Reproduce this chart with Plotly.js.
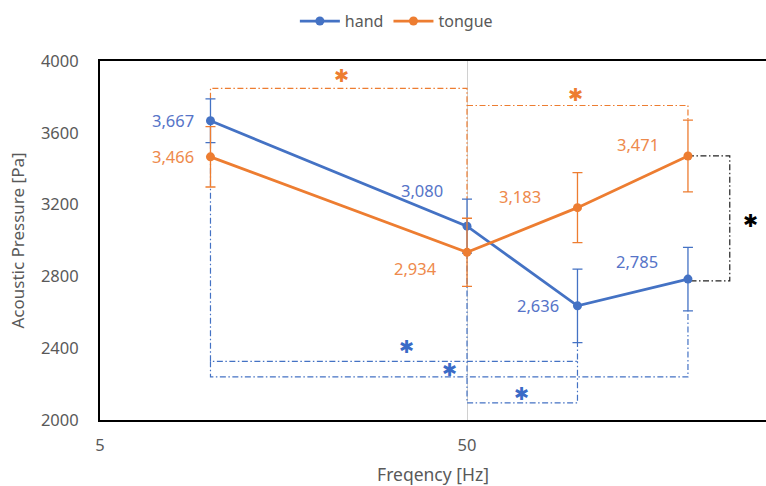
<!DOCTYPE html>
<html>
<head>
<meta charset="utf-8">
<script src="https://cdn.plot.ly/plotly-3.0.1.min.js"></script>
<style>html,body{margin:0;padding:0;background:#fff;}#chart{width:766px;height:486px;}</style>
</head>
<body>
<div id="chart"></div>
<script>
// ---- data ----
const freq = [10, 50, 100, 200];
const handVals = [3667, 3080, 2636, 2785];
const handErr = [122, 150, 205, 177];
const tongueVals = [3466, 2934, 3183, 3471];
const tongueErr = [168, 190, 195, 200];
const xTickVals = [5, 50, 500];
const xTickText = ['5', '50', '500'];
const yTickVals = [2000, 2400, 2800, 3200, 3600, 4000];

// significance bracket levels (Pa)
const orangeLevels = [3848, 3752];
const blueLevels = [2327, 2240, 2095];
const blackBracketX = 260;
// star positions (data space)
const starFreq = [22.8, 99, 297, 34.3, 44.7, 70.2];
const starPa = [3922, 3811, 3114, 2412, 2284, 2145];
const starColor = ['#ED7D31', '#ED7D31', '#000000', '#3A6BC7', '#3A6BC7', '#3A6BC7'];

// label offsets (pixels)
const handLabelOff = [[-14, 0, 'right'], [-45, 36, 'center'], [-39, 0, 'center'], [-51, 18, 'center']];
const tongueLabelOff = [[-14, 0, 'right'], [-52, -16, 'center'], [-57, 11, 'center'], [-50, 11, 'center']];

const BLUE = '#4472C4', ORANGE = '#ED7D31';
const FONT = '"Noto Sans", sans-serif';
const DASH = '6px,2.5px,1.5px,2.5px';

function bracket(xs, ys, color) {
  return {x: xs, y: ys, mode: 'lines', type: 'scatter', showlegend: false, hoverinfo: 'skip',
          line: {color: color, width: 1.2, dash: DASH}};
}

const traces = [
  bracket([freq[0], freq[0], freq[1], freq[1]],
          [handVals[0] + handErr[0], orangeLevels[0], orangeLevels[0], handVals[1] + handErr[1]], ORANGE),
  bracket([freq[1], freq[3], freq[3]],
          [orangeLevels[1], orangeLevels[1], tongueVals[3] + tongueErr[3]], ORANGE),
  bracket([freq[3], blackBracketX, blackBracketX, freq[3]],
          [tongueVals[3], tongueVals[3], handVals[3] - 10, handVals[3] - 10], '#222222'),
  bracket([freq[0], freq[0], freq[2], freq[2]],
          [handVals[0] - handErr[0], blueLevels[0], blueLevels[0], handVals[2] - handErr[2]], BLUE),
  bracket([freq[0], freq[0], freq[3], freq[3]],
          [blueLevels[0], blueLevels[1], blueLevels[1], handVals[3] - handErr[3]], BLUE),
  bracket([freq[1], freq[1], freq[2], freq[2]],
          [handVals[1] - handErr[1], blueLevels[2], blueLevels[2], blueLevels[0]], BLUE),
  {x: freq, y: handVals, name: 'hand', type: 'scatter', mode: 'lines+markers',
   line: {color: BLUE, width: 2.8}, marker: {color: BLUE, size: 9},
   error_y: {type: 'data', array: handErr, visible: true, color: BLUE, thickness: 1.3, width: 5}},
  {x: freq, y: tongueVals, name: 'tongue', type: 'scatter', mode: 'lines+markers',
   line: {color: ORANGE, width: 2.8}, marker: {color: ORANGE, size: 9},
   error_y: {type: 'data', array: tongueErr, visible: true, color: ORANGE, thickness: 1.3, width: 5}}
];

const annotations = [];
function fmt(v) { return v.toLocaleString('en-US'); }
freq.forEach((f, i) => {
  annotations.push({x: Math.log10(f), y: handVals[i], xref: 'x', yref: 'y', text: fmt(handVals[i]),
    showarrow: false, xanchor: handLabelOff[i][2], xshift: handLabelOff[i][0], yshift: handLabelOff[i][1],
    font: {family: FONT, size: 16.5, color: '#5674C8'}});
  annotations.push({x: Math.log10(f), y: tongueVals[i], xref: 'x', yref: 'y', text: fmt(tongueVals[i]),
    showarrow: false, xanchor: tongueLabelOff[i][2], xshift: tongueLabelOff[i][0], yshift: tongueLabelOff[i][1],
    font: {family: FONT, size: 16.5, color: '#EE8A4C'}});
});
starFreq.forEach((f, i) => {
  annotations.push({x: Math.log10(f), y: starPa[i], xref: 'x', yref: 'y', text: '✱',
    showarrow: false, yshift: 0, font: {family: 'DejaVu Sans', size: 18, color: starColor[i]}});
});

const layout = {
  width: 766, height: 486,
  margin: {l: 100, r: 0, t: 61, b: 66},
  paper_bgcolor: '#ffffff', plot_bgcolor: '#ffffff',
  font: {family: FONT, color: '#595959', size: 16},
  showlegend: true,
  legend: {orientation: 'h', x: 0.445, xanchor: 'center', y: 1.111, yanchor: 'middle',
           font: {family: FONT, size: 16, color: '#595959'}, itemwidth: 40},
  xaxis: {type: 'log', range: [Math.log10(5), Math.log10(5) + 666 / 367],
          tickvals: xTickVals, ticktext: xTickText,
          showgrid: true, gridcolor: '#d0d0d0', gridwidth: 1,
          showline: true, linecolor: '#000000', linewidth: 2, mirror: true,
          ticks: 'outside', ticklen: 9, tickcolor: 'rgba(0,0,0,0)',
          zeroline: false, tickfont: {size: 16.5, color: '#595959'},
          title: {text: 'Freqency [Hz]', standoff: 24, font: {size: 17.5, color: '#595959'}}},
  yaxis: {range: [2000, 4000], tickvals: yTickVals, showgrid: false,
          showline: true, linecolor: '#000000', linewidth: 2, mirror: false,
          ticks: 'outside', ticklen: 16, tickcolor: 'rgba(0,0,0,0)',
          zeroline: false, tickfont: {size: 16.5, color: '#595959'},
          title: {text: 'Acoustic Pressure [Pa]', standoff: 12, font: {size: 17, color: '#595959'}}},
  annotations: annotations
};

Plotly.newPlot('chart', traces, layout, {displayModeBar: false, staticPlot: true});
</script>
</body>
</html>
